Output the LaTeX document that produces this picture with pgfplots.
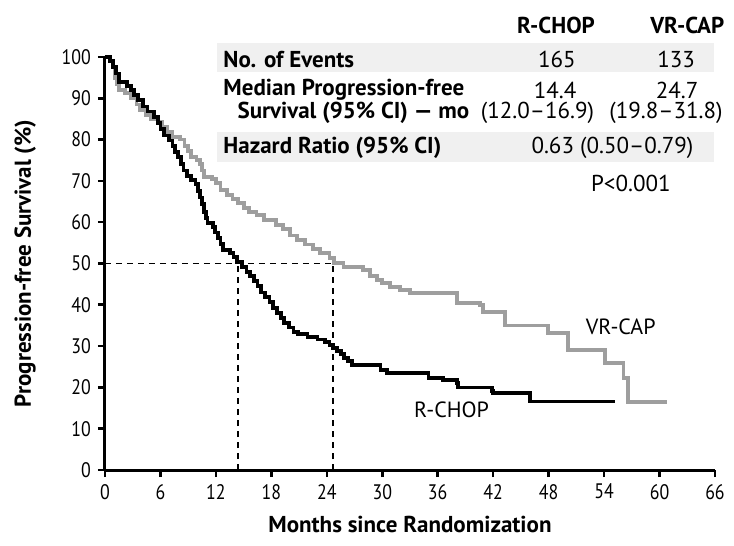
\documentclass[border=0pt]{standalone}
\usepackage{pgfplots}
\pgfplotsset{compat=1.18}
\usepackage{fontspec}
\setmainfont{PT Sans}
\newfontfamily\tickfont[FakeStretch=0.85]{PT Sans}
\definecolor{curvegray}{RGB}{158,158,158}
\definecolor{bandgray}{RGB}{240,240,240}

\begin{document}
\begin{tikzpicture}
\path[use as bounding box] (-52.5pt,-38pt) rectangle (314.5pt,235pt);
\begin{axis}[
    width=305pt, height=206.5pt, scale only axis,
    xmin=0, xmax=66, ymin=0, ymax=100,
    axis x line*=bottom, axis y line*=left,
    axis line style={line width=1.5pt, -},
    xtick={0,6,...,66}, ytick={0,10,...,100},
    tick align=outside, major tick length=3.5pt,
    tick style={line width=1.3pt, black},
    ticklabel style={font=\tickfont\fontsize{10.5}{12}\selectfont},
    /pgf/number format/assume math mode=true,
    xlabel={Months since Randomization},
    ylabel={Progression-free Survival (\%)},
    label style={font=\bfseries\fontsize{11.5}{13}\selectfont},
    xlabel style={at={(axis description cs:0.5,-0.131)}, anchor=center},
    ylabel style={at={(axis description cs:-0.131,0.5)}, anchor=center},
    clip=false,
]
% table behind the curves
\fill[bandgray] (axis cs:12.12,96.4) rectangle (axis cs:65.9,103.4);
\fill[bandgray] (axis cs:12.12,74.6) rectangle (axis cs:65.9,81.8);
\begin{scope}[every node/.style={inner sep=0pt, font=\fontsize{11.5}{13}\selectfont}]
\node[font=\bfseries\fontsize{11.5}{13}\selectfont] at (axis cs:48.8,107.7) {R-CHOP};
\node[font=\bfseries\fontsize{11.5}{13}\selectfont] at (axis cs:63.0,107.7) {VR-CAP};
\node[anchor=west, font=\bfseries\fontsize{11.5}{13}\selectfont] at (axis cs:12.77,99.5) {No. of Events};
\node at (axis cs:48.9,99.5) {165};
\node at (axis cs:61.8,99.5) {133};
\node[anchor=west, font=\bfseries\fontsize{11.5}{13}\selectfont] at (axis cs:12.77,92.0) {Median Progression-free};
\node at (axis cs:48.7,92.0) {14.4};
\node at (axis cs:61.9,92.0) {24.7};
\node[anchor=west, font=\bfseries\fontsize{11.5}{13}\selectfont] at (axis cs:14.3,86.4) {Survival (95\% CI) — mo};
\node at (axis cs:46.8,86.4) {(12.0–16.9)};
\node at (axis cs:60.7,86.4) {(19.8–31.8)};
\node[anchor=west, font=\bfseries\fontsize{11.5}{13}\selectfont] at (axis cs:12.77,78.0) {Hazard Ratio (95\% CI)};
\node at (axis cs:54.9,78.0) {0.63 (0.50–0.79)};
\node at (axis cs:56.9,69.5) {P<0.001};
\node[font=\fontsize{11}{13}\selectfont] at (axis cs:55.8,34.6) {VR-CAP};
\node[font=\fontsize{11}{13}\selectfont] at (axis cs:37.5,14.5) {R-CHOP};
\end{scope}

% median lines
\addplot[black, line width=0.8pt, dash pattern=on 3pt off 2.5pt] coordinates {(0,50) (24.7,50)};
\addplot[black, line width=0.8pt, dash pattern=on 3pt off 2.5pt] coordinates {(14.4,0) (14.4,50)};
\addplot[black, line width=0.8pt, dash pattern=on 3pt off 2.5pt] coordinates {(24.7,0) (24.7,50)};

% VR-CAP
\addplot[const plot, curvegray, line width=1.9pt] coordinates {
(0,100) (0.5,99) (0.9,97.5) (1.1,95) (1.3,93.5) (1.5,92) (2.2,91.2) (2.8,90)
(3.4,88.5) (3.8,87.2) (4.4,86) (5.0,85) (5.7,84.2) (6.2,83) (6.7,81.8) (7.3,80.6)
(8.1,80) (8.6,78.5) (9.0,77.3) (9.3,75.7) (9.9,75) (10.3,74) (10.5,72.5) (10.7,71)
(11.6,70.5) (12.0,69.5) (12.5,67.8) (13.2,66.6) (13.8,65.6) (14.4,64.6) (15.0,63.5)
(15.6,62.5) (16.4,61.8) (17.2,60.5) (18.5,59.3) (19.3,58.3) (20.0,56.8) (20.8,55.7)
(21.6,54.6) (22.5,53.5) (23.3,52.5) (24.3,51.4) (24.8,50.2) (25.8,49.2) (27.9,48.4)
(28.7,46.9) (29.4,46) (30.0,45.3) (30.8,44.4) (31.9,43.6) (33.0,42.9) (38.1,40.4)
(40.6,40.0) (40.9,38.3) (43.3,35.0) (47.9,33.2) (50.1,29.0) (54.1,25.9) (56.1,22.3)
(56.6,16.5) (60.8,16.5)
};

% R-CHOP
\addplot[const plot, black, line width=1.9pt] coordinates {
(0,100) (0.5,99) (0.9,97.5) (1.2,96) (1.5,94) (2.4,93) (2.8,92) (3.1,90.8) (3.6,89.5)
(4.1,88) (4.6,86.8) (5.3,85.5) (5.7,84) (6.0,82.5) (6.4,81) (6.9,79.8) (7.3,78.5)
(7.6,77) (7.9,75.8) (8.2,74) (8.5,72.5) (8.9,71.2) (9.3,70.2) (9.8,69.2) (10.1,67.5)
(10.3,66) (10.5,64.5) (10.7,62.5) (10.9,61) (11.1,59.8) (11.7,58.8) (11.9,57.5)
(12.2,56.2) (12.5,54.8) (12.8,53.3) (13.5,52.5) (13.9,51.5) (14.3,50.4) (14.8,49.2)
(15.3,48) (15.7,47) (16.1,45.8) (16.5,44.5) (16.9,43) (17.3,41.8) (17.8,40.6)
(18.2,39.3) (18.6,38) (19.0,36.8) (19.4,35.6) (19.9,34.5) (20.4,33.5) (20.9,33)
(21.9,32.2) (23.0,31.6) (23.8,31) (24.3,30.2) (24.7,29.6) (25.1,28.8) (25.5,28)
(25.9,27.2) (26.3,26.4) (26.7,25.4) (29.8,24.2) (30.5,23.5) (35.0,22.3) (36.6,21.8)
(38.1,21.0) (38.2,20.0) (41.9,19.2) (42.0,18.6) (46.0,16.6) (55.2,16.6)
};
\end{axis}
\end{tikzpicture}
\end{document}
